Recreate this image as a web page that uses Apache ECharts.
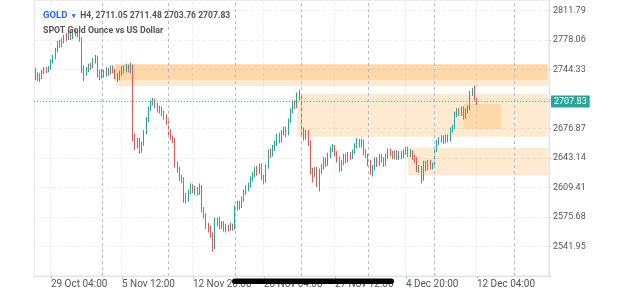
<!DOCTYPE html>
<html><head><meta charset="utf-8">
<script src="https://cdn.jsdelivr.net/npm/echarts@6/dist/echarts.min.js"></script>
<style>html,body{margin:0;padding:0;background:#fff}#c{width:625px;height:289px}</style>
</head><body><div id="c"></div>
<script>
const days = ['28 Oct','29 Oct','30 Oct','31 Oct','1 Nov','4 Nov','5 Nov','6 Nov','7 Nov','8 Nov','11 Nov','12 Nov','13 Nov','14 Nov','15 Nov','18 Nov','19 Nov','20 Nov','21 Nov','22 Nov','25 Nov','26 Nov','27 Nov','28 Nov','29 Nov','2 Dec','3 Dec','4 Dec','5 Dec','6 Dec','9 Dec','10 Dec','11 Dec','12 Dec','13 Dec','16 Dec','17 Dec','18 Dec','19 Dec'];
const hours = ['00:00','04:00','08:00','12:00','16:00','20:00'];
const categories = [];
for (const d of days) for (const h of hours) categories.push(d + ' ' + h);
categories.length = 232;

const tickLabels = ['29 Oct 04:00','5 Nov 12:00','12 Nov 20:00','20 Nov 04:00','27 Nov 12:00','4 Dec 20:00','12 Dec 04:00'];
const separators = ['4 Nov 00:00','11 Nov 00:00','18 Nov 00:00','25 Nov 00:00','2 Dec 00:00','9 Dec 00:00','17 Dec 00:00'];

const symbolName = 'GOLD';
const timeframe = 'H4';
const description = 'SPOT Gold Ounce vs US Dollar';

// [open, close, low, high]
const candles = [
[2742,2735,2732,2746],[2735,2738,2731,2741],[2738,2734,2730,2740],[2734,2741,2733,2744],[2741,2744,2739,2747],[2744,2743,2740,2747],
[2743,2745,2741,2748],[2745,2753,2744,2756],[2753,2758,2751,2761],[2758,2766,2756,2769],[2766,2774,2764,2777],[2774,2772,2769,2778],
[2772,2777,2770,2780],[2777,2782,2774,2784],[2782,2780,2777,2786],[2780,2786,2778,2789],[2786,2781,2778,2790],[2781,2785,2779,2788],
[2785,2787,2782,2790],[2787,2784,2781,2789],[2784,2779,2776,2786],[2779,2745,2740,2781],[2745,2741,2731,2749],[2741,2744,2737,2747],
[2744,2749,2741,2751],[2749,2748,2744,2752],[2748,2754,2746,2757],[2754,2757,2751,2761],[2757,2739,2735,2760],[2739,2737,2732,2744],
[2737,2742,2734,2745],[2742,2739,2735,2744],[2739,2744,2736,2747],[2744,2741,2737,2746],[2741,2746,2739,2749],[2746,2743,2740,2749],
[2743,2737,2733,2745],[2737,2734,2730,2740],[2734,2740,2732,2743],[2740,2746,2737,2748],[2746,2743,2740,2749],[2743,2748,2741,2751],
[2748,2745,2741,2750],[2745,2748,2740,2752],[2748,2668,2662,2750],[2668,2657,2652,2671],[2657,2663,2654,2666],[2663,2652,2648,2666],
[2652,2660,2649,2662],[2660,2672,2657,2675],[2672,2687,2670,2690],[2687,2700,2684,2702],[2700,2706,2697,2709],[2706,2709,2703,2712],
[2709,2703,2700,2711],[2703,2698,2695,2706],[2698,2700,2694,2703],[2700,2694,2691,2702],[2694,2690,2687,2697],[2690,2684,2681,2693],
[2684,2673,2669,2686],[2673,2667,2664,2676],[2667,2664,2660,2669],[2664,2636,2632,2666],[2636,2630,2626,2639],[2630,2621,2617,2633],
[2621,2619,2614,2624],[2619,2600,2592,2621],[2600,2596,2591,2603],[2596,2605,2593,2607],[2605,2611,2602,2614],[2611,2606,2603,2613],
[2606,2608,2601,2611],[2608,2604,2600,2610],[2604,2609,2601,2614],[2609,2584,2581,2612],[2584,2578,2574,2587],[2578,2566,2562,2580],
[2566,2563,2558,2569],[2563,2556,2552,2566],[2556,2541,2536,2558],[2541,2572,2539,2575],[2572,2569,2565,2575],[2569,2566,2562,2576],
[2566,2568,2562,2571],[2568,2562,2559,2571],[2562,2565,2558,2568],[2565,2563,2559,2567],[2563,2566,2560,2569],[2566,2563,2560,2568],
[2563,2586,2561,2589],[2586,2591,2583,2594],[2591,2588,2584,2594],[2588,2596,2586,2599],[2596,2604,2593,2607],[2604,2609,2601,2612],
[2609,2612,2605,2615],[2612,2619,2609,2622],[2619,2624,2616,2627],[2624,2630,2621,2633],[2630,2627,2623,2634],[2627,2634,2625,2637],
[2634,2621,2618,2637],[2621,2617,2613,2624],[2617,2634,2615,2636],[2634,2650,2631,2653],[2650,2647,2643,2654],[2647,2655,2645,2658],
[2655,2660,2651,2663],[2660,2668,2657,2671],[2668,2664,2660,2672],[2664,2672,2661,2675],[2672,2676,2669,2679],[2676,2671,2667,2679],
[2671,2685,2669,2688],[2685,2697,2683,2700],[2697,2706,2694,2709],[2706,2702,2699,2709],[2702,2712,2700,2718],[2712,2715,2709,2721],
[2713,2670,2667,2716],[2670,2667,2663,2678],[2667,2672,2664,2675],[2672,2660,2657,2675],[2660,2628,2624,2663],[2628,2625,2615,2632],
[2625,2630,2621,2633],[2630,2623,2610,2633],[2623,2628,2605,2631],[2628,2633,2625,2636],[2633,2641,2630,2644],[2641,2637,2633,2644],
[2637,2646,2634,2649],[2646,2653,2643,2656],[2653,2656,2650,2659],[2656,2648,2645,2658],[2648,2642,2638,2651],[2642,2631,2627,2645],
[2631,2638,2628,2641],[2638,2645,2635,2648],[2645,2640,2637,2648],[2640,2647,2638,2650],[2647,2644,2641,2650],[2644,2650,2642,2653],
[2650,2657,2648,2660],[2657,2663,2654,2666],[2663,2658,2655,2665],[2658,2662,2655,2665],[2662,2650,2646,2664],[2650,2647,2643,2653],
[2645,2638,2634,2648],[2638,2628,2624,2641],[2628,2632,2622,2635],[2632,2641,2629,2644],[2641,2637,2633,2644],[2637,2645,2634,2648],
[2645,2641,2638,2648],[2641,2636,2633,2644],[2636,2645,2634,2648],[2645,2651,2642,2654],[2651,2648,2645,2654],[2648,2645,2642,2651],
[2645,2649,2642,2652],[2649,2644,2641,2652],[2644,2648,2641,2651],[2648,2645,2642,2651],[2645,2650,2643,2653],[2650,2653,2647,2656],
[2653,2647,2644,2656],[2647,2650,2644,2653],[2650,2644,2641,2652],[2644,2641,2637,2647],[2641,2630,2627,2644],[2630,2632,2626,2635],
[2632,2619,2614,2634],[2619,2637,2617,2640],[2637,2632,2628,2640],[2632,2638,2629,2641],[2638,2633,2630,2641],[2633,2635,2630,2638],
[2634,2653,2632,2656],[2653,2661,2650,2664],[2661,2664,2658,2667],[2664,2666,2661,2669],[2666,2662,2659,2669],[2662,2667,2660,2670],
[2667,2664,2661,2670],[2664,2675,2662,2678],[2675,2678,2672,2681],[2678,2693,2676,2696],[2693,2697,2690,2700],[2697,2694,2691,2700],
[2694,2699,2691,2702],[2699,2690,2687,2702],[2690,2697,2688,2700],[2697,2700,2694,2703],[2700,2717,2698,2720],[2717,2719,2714,2723],
[2719,2711.05,2709,2726],[2711.05,2707.83,2703.76,2711.48]
];

// price zones: from category, to category (null = right edge), top price, bottom price
const zoneFrom = ['5 Nov 00:00','5 Nov 00:00','22 Nov 16:00','11 Dec 04:00','5 Dec 00:00'];
const zoneTo = [null, null, null, '16 Dec 00:00', null];
const zoneTop = [2750.4, 2750.4, 2716.3, 2705.0, 2654.9];
const zoneBottom = [2725.4, 2732.2, 2667.5, 2676.5, 2623.0];

const priceMin = 2508.22, priceMax = 2823.16, priceStep = 33.73;

const last = candles[candles.length - 1];
const lastClose = last[1];
const f2 = v => Number(v).toFixed(2);
const isTick = (i, v) => tickLabels.includes(v);

const chart = echarts.init(document.getElementById('c'), null, {renderer: 'canvas'});
const zoneColor = 'rgba(251,140,0,0.18)';
chart.setOption({
  animation: false,
  backgroundColor: '#fff',
  textStyle: {fontFamily: 'Roboto'},
  title: {
    left: 38, top: 2,
    text: '{g|' + symbolName + '} {a|▾} {t|' + timeframe + ', ' + f2(last[0]) + ' ' + f2(last[3]) + ' ' + f2(last[2]) + ' ' + f2(last[1]) + '}\n{s|' + description + '}',
    textStyle: {
      rich: {
        g: {color: '#2962ff', fontSize: 9.5, fontFamily: 'Roboto', lineHeight: 11.5},
        a: {color: '#2962ff', fontSize: 7, fontFamily: 'Roboto', lineHeight: 11.5},
        t: {color: '#555', fontSize: 8.6, fontFamily: 'Roboto', lineHeight: 11.5},
        s: {color: '#555', fontSize: 8.8, fontFamily: 'Roboto', lineHeight: 11.5}
      }
    }
  },
  grid: {left: 34.25, right: 76, top: 0.5, bottom: 12.5, show: true, borderColor: '#e0e3eb', borderWidth: 1},
  xAxis: {
    type: 'category', data: categories, boundaryGap: true,
    axisLine: {lineStyle: {color: '#e0e3eb'}},
    axisTick: {show: true, length: 3, interval: isTick, alignWithLabel: true, lineStyle: {color: '#c8cbd3'}},
    axisLabel: {interval: isTick, align: 'left', color: '#555', fontSize: 10, margin: 3, fontFamily: 'Roboto'},
    splitLine: {show: true, interval: isTick, lineStyle: {color: '#eeeeee', type: 'dashed'}}
  },
  yAxis: {
    type: 'value', position: 'right', min: priceMin, max: priceMax, interval: priceStep, scale: true,
    axisLine: {show: true, lineStyle: {color: '#e0e3eb'}},
    axisTick: {show: true, length: 2, lineStyle: {color: '#c8cbd3'}},
    axisLabel: {color: '#555', fontSize: 9, margin: 4, fontFamily: 'Roboto', showMaxLabel: false,
      formatter: v => (v < 2520 || v > 2815 || Math.abs(v - lastClose) < 8) ? '' : f2(v)},
    splitLine: {lineStyle: {color: '#f0f0f0', type: 'dashed'}}
  },
  series: [{
    type: 'candlestick',
    data: candles,
    barWidth: 1,
    itemStyle: {color: '#26a69a', color0: '#ef5350', borderColor: '#26a69a', borderColor0: '#ef5350', borderWidth: 1},
    markArea: {
      silent: true,
      data: zoneFrom.map((f, k) => [
        {xAxis: f, yAxis: zoneTop[k], itemStyle: {color: zoneColor}},
        {xAxis: zoneTo[k] || categories[categories.length - 1], yAxis: zoneBottom[k]}
      ])
    },
    markLine: {
      silent: true, symbol: ['none', 'none'], animation: false,
      data: separators.map(s => ({xAxis: s, lineStyle: {color: '#b8bbc3', type: [3, 3], width: 1}, label: {show: false}}))
        .concat([{yAxis: lastClose, lineStyle: {color: '#26a69a', type: [1, 2], width: 1},
          label: {show: true, position: 'end', formatter: f2(lastClose), backgroundColor: '#26a69a', color: '#fff',
            padding: [2, 3, 1, 3], fontSize: 9, fontFamily: 'Roboto', distance: 2}}])
    }
  }],
  graphic: [{type: 'rect', shape: {x: 232, y: 278.5, width: 162, height: 5.5, r: 2.75}, style: {fill: '#000'}, z: 100}]
});
</script></body></html>
